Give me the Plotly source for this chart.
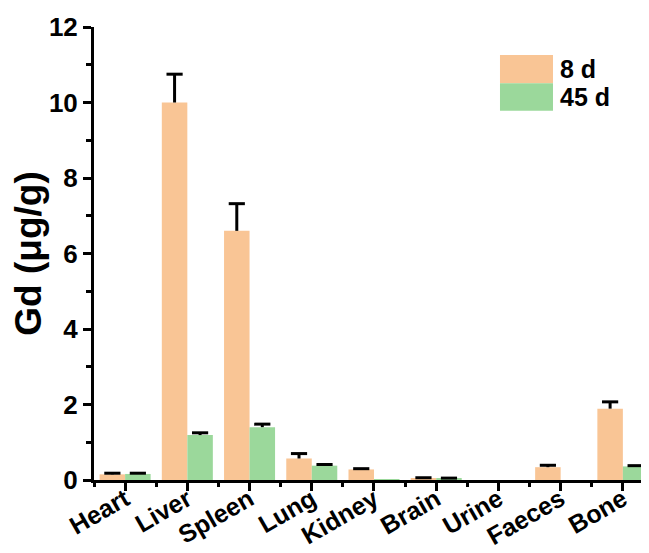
import plotly.graph_objects as go

categories = ["Heart", "Liver", "Spleen", "Lung", "Kidney", "Brain", "Urine", "Faeces", "Bone"]
d8_values = [0.15, 10.0, 6.6, 0.57, 0.28, 0.05, 0.0, 0.34, 1.89]
d8_errors = [0.03, 0.75, 0.72, 0.13, 0.02, 0.01, 0.0, 0.05, 0.18]
d45_values = [0.16, 1.19, 1.40, 0.38, 0.02, 0.04, 0.0, 0.0, 0.36]
d45_errors = [0.02, 0.06, 0.08, 0.03, 0.0, 0.01, 0.0, 0.0, 0.02]
series_names = ["8 d", "45 d"]
colors = ["#F9C595", "#9BD89B"]
y_ticks = [0, 2, 4, 6, 8, 10, 12]

x_pos = list(range(len(categories)))
font_family = "Liberation Sans, Arial, sans-serif"
bargap = 0.18
bar_w = (1 - bargap) / 2
offsets = [-bar_w / 2, bar_w / 2]
cap_half = 0.13

fig = go.Figure()
series = [(series_names[0], d8_values, d8_errors, colors[0]),
          (series_names[1], d45_values, d45_errors, colors[1])]
for name, vals, errs, col in series:
    fig.add_trace(go.Bar(
        x=x_pos, y=vals, name=name, marker=dict(color=col, line=dict(width=0)),
        showlegend=False,
    ))

# upward-only error bars (stem + top cap)
for (name, vals, errs, col), off in zip(series, offsets):
    ex, ey = [], []
    for xi, v, e in zip(x_pos, vals, errs):
        if e <= 0:
            continue
        xc = xi + off
        ex += [xc, xc, None, xc - cap_half, xc + cap_half, None]
        ey += [v, v + e, None, v + e, v + e, None]
    fig.add_trace(go.Scatter(x=ex, y=ey, mode="lines", line=dict(color="black", width=3),
                             showlegend=False, hoverinfo="skip"))

fig.update_layout(
    width=641, height=545,
    margin=dict(l=86, r=0, t=19, b=73, autoexpand=False),
    plot_bgcolor="white", paper_bgcolor="white",
    barmode="group", bargap=bargap, bargroupgap=0,
    font=dict(family=font_family, color="black"),
    xaxis=dict(
        range=[-0.5, 8.42], tickvals=x_pos, ticktext=[f"<b>{c}</b>" for c in categories],
        tickangle=-30, tickfont=dict(size=25, family=font_family),
        ticklabelstandoff=-16, ticklabelshift=0,
        showline=True, linecolor="black", linewidth=3, automargin=False,
        ticks="outside", ticklen=8, tickwidth=3, tickcolor="black",
        minor=dict(tick0=0.5, dtick=1, ticks="outside", ticklen=4, tickwidth=3, tickcolor="black"),
        showgrid=False, zeroline=False,
    ),
    yaxis=dict(
        range=[0, 12], tickvals=y_ticks, ticktext=[f"<b>{t}</b>" for t in y_ticks],
        tickfont=dict(size=26, family=font_family), automargin=False,
        showline=True, linecolor="black", linewidth=3,
        ticks="outside", ticklen=8, tickwidth=3, tickcolor="black",
        minor=dict(dtick=1, ticks="outside", ticklen=5, tickwidth=3, tickcolor="black"),
        showgrid=False, zeroline=False,
        title=dict(text="<b>Gd (μg/g)</b>", font=dict(size=37, family=font_family), standoff=8),
    ),
)

# Legend drawn as patches + labels
legend_y = [(0.876, 0.938), (0.815, 0.876)]
for (y0, y1), col, name in zip(legend_y, colors, series_names):
    fig.add_shape(type="rect", xref="paper", yref="paper", x0=0.7315, x1=0.827, y0=y0, y1=y1,
                  fillcolor=col, line=dict(width=0))
    fig.add_annotation(xref="paper", yref="paper", x=0.836, y=(y0 + y1) / 2, xanchor="left",
                       yanchor="middle", text=f"<b>{name}</b>", showarrow=False,
                       font=dict(size=25, family=font_family, color="black"))

fig.write_html("out.html")
